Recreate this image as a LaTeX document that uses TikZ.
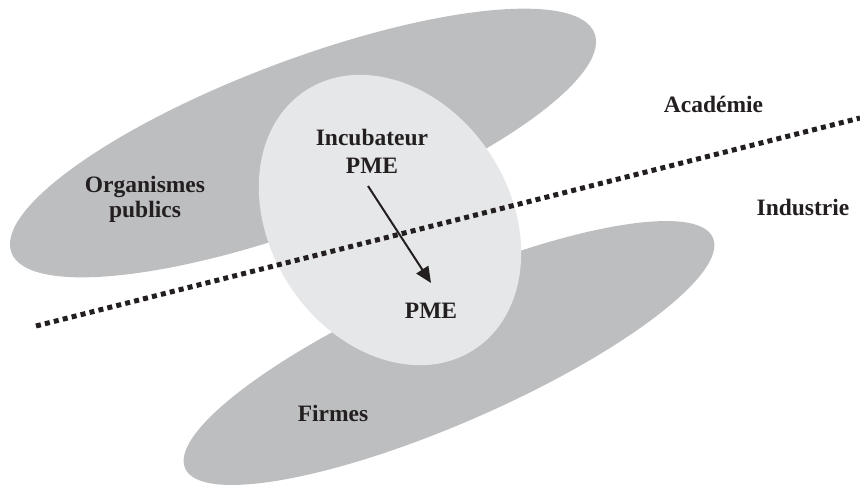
\documentclass[tikz,border=0pt]{standalone}
\usepackage{fontspec}
\setmainfont{Liberation Serif}
\usetikzlibrary{arrows.meta}
\definecolor{darkfill}{RGB}{189,190,192}
\definecolor{lightfill}{RGB}{230,231,232}
\definecolor{ink}{RGB}{35,31,32}
\tikzset{
  lbl/.style={inner sep=0pt, anchor=base, text=ink, font=\fontsize{23.5}{26}\selectfont\bfseries},
  sepline/.style={draw=ink, line width=5pt, dash pattern=on 5pt off 4.2pt},
  flow/.style={draw=ink, line width=2pt, -{Triangle[length=16pt,width=14pt]}}
}
\begin{document}
\begin{tikzpicture}[x=1pt,y=-1pt]
\useasboundingbox (0,0) rectangle (860,488);
% regions
\fill[darkfill, rotate around={20.6:(303,143)}] (303,143) ellipse [x radius=311.5, y radius=83];
\fill[darkfill, rotate around={23.6:(449,353)}] (449,353) ellipse [x radius=288, y radius=70];
\fill[lightfill, rotate around={-57:(390,220)}] (390,220) ellipse [x radius=154.5, y radius=120];
% separator
\coordinate (sepA) at (36,326);
\coordinate (sepB) at (860,118);
\draw[sepline] (sepA) -- (sepB);
% labels
\node[lbl] (org1) at (145,192) {Organismes};
\node[lbl] (org2) at (145,217) {publics};
\node[lbl] (inc1) at (372,145) {Incubateur};
\node[lbl] (inc2) at (372,173) {PME};
\node[lbl] (pme) at (431,318) {PME};
\node[lbl] (firm) at (333,421) {Firmes};
\node[lbl] (acad) at (713.5,112) {Académie};
\node[lbl] (indu) at (803,215) {Industrie};
% arrow
\coordinate (arS) at (368,186);
\coordinate (arE) at (431,283);
\draw[flow] (arS) -- (arE);
\end{tikzpicture}
\end{document}
